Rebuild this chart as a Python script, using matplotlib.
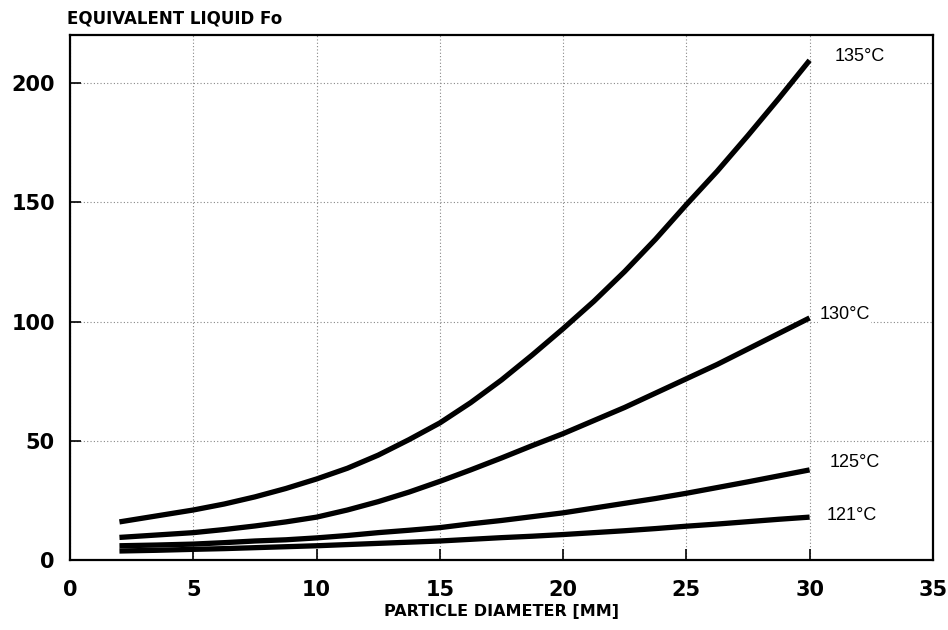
import matplotlib.pyplot as plt
import numpy as np
from matplotlib import font_manager

# particle diameter (mm)
diameter = [2, 3.5, 5, 6.25, 7.5, 8.75, 10, 11.25, 12.5, 13.75, 15, 16.25, 17.5,
            18.75, 20, 21.25, 22.5, 23.75, 25, 26.25, 27.5, 28.75, 30]

fo_135 = [16, 18.5, 21, 23.5, 26.5, 30, 34, 38.5, 44, 50.5, 57.5, 66, 75.5,
          86, 97, 108.5, 121, 134.5, 149, 163, 178, 193.5, 209.5]
fo_130 = [9.5, 10.5, 11.5, 12.8, 14.3, 16, 18, 21, 24.5, 28.5, 33, 37.8, 42.8,
          48, 53, 58.5, 64, 70, 76, 82, 88.5, 95, 101.5]
fo_125 = [6, 6.3, 6.7, 7.3, 8, 8.5, 9.3, 10.3, 11.5, 12.5, 13.6, 15.2, 16.6,
          18.2, 19.8, 21.8, 23.8, 25.8, 28, 30.4, 32.8, 35.3, 37.8]
fo_121 = [3.8, 4.1, 4.5, 4.8, 5.2, 5.6, 6, 6.5, 7, 7.5, 8, 8.7, 9.4,
          10, 10.7, 11.5, 12.3, 13.2, 14.2, 15.1, 16.1, 17.1, 18]

series = [
    ("135°C", fo_135, (31.0, 211)),
    ("130°C", fo_130, (30.4, 103)),
    ("125°C", fo_125, (30.8, 41)),
    ("121°C", fo_121, (30.7, 18.5)),
]

x_ticks = [0, 5, 10, 15, 20, 25, 30, 35]
y_ticks = [0, 50, 100, 150, 200]

installed = {f.name for f in font_manager.fontManager.ttflist}
label_font = 'Liberation Sans Narrow' if 'Liberation Sans Narrow' in installed else 'Liberation Sans'
label_size = 14 if label_font == 'Liberation Sans Narrow' else 13

fig = plt.figure(figsize=(9.48, 6.3), dpi=100)
ax = fig.add_axes([0.074, 0.111, 0.91, 0.833])

for label, vals, pos in series:
    ax.plot(diameter, vals, color='black', linewidth=3.8,
            solid_capstyle='butt', solid_joinstyle='round', zorder=3)
    ax.text(pos[0], pos[1], label, fontsize=label_size, ha='left', va='center',
            family=label_font, zorder=4,
            bbox=dict(facecolor='white', edgecolor='none', pad=1))

ax.set_xlim(0, 35)
ax.set_ylim(0, 220)
ax.set_xticks(x_ticks)
ax.set_yticks(y_ticks)
ax.set_xticklabels([str(t) for t in x_ticks], fontsize=15, fontweight='bold')
ax.set_yticklabels([str(t) for t in y_ticks], fontsize=15, fontweight='bold')
ax.tick_params(axis='x', direction='in', length=8, width=1.2, pad=14)
ax.tick_params(axis='y', direction='in', length=8, width=1.2, pad=11)

ax.grid(True, linestyle=(0, (1, 2)), color='#888888', linewidth=0.8)
ax.set_axisbelow(True)
for spine in ax.spines.values():
    spine.set_linewidth(1.6)

ax.set_xlabel("PARTICLE DIAMETER [MM]", fontsize=11.5, fontweight='bold', labelpad=3)
fig.text(0.071, 0.971, "EQUIVALENT LIQUID Fo", fontsize=12, fontweight='bold',
         ha='left', va='center')

fig.savefig("out.png", dpi=100)
